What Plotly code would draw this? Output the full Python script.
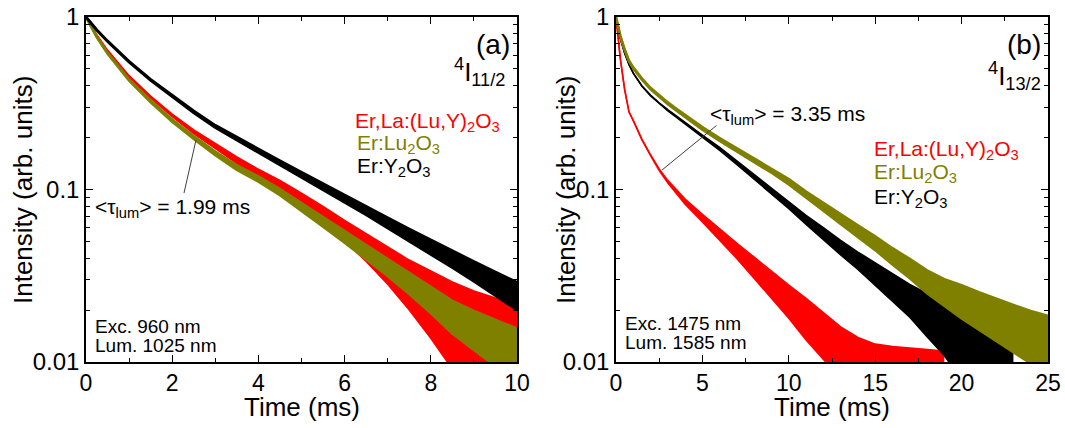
import plotly.graph_objects as go

# ---------------- data ----------------
# Panel (a): 4I11/2 decay, time in ms, normalised intensity
t_a = [0, 0.25, 0.5, 1, 1.5, 2, 2.5, 3, 3.5, 4, 4.5, 5, 5.5, 6, 6.5, 7, 7.5, 8, 8.5, 9, 9.5, 10]
erY_a = [1.0, 0.841, 0.724, 0.550, 0.432, 0.347, 0.282, 0.232, 0.197, 0.167, 0.143, 0.122, 0.104,
         0.0883, 0.0753, 0.0641, 0.0547, 0.0466, 0.0397, 0.0338, 0.0288, 0.0245]
erLu_a = [1.0, 0.767, 0.617, 0.431, 0.324, 0.251, 0.200, 0.162, 0.134, 0.115, 0.0966, 0.0794, 0.0649,
          0.0531, 0.0435, 0.0355, 0.0288, 0.0232, 0.0186, 0.0158, 0.0135, 0.0116]
erLa_a = [1.0, 0.785, 0.638, 0.452, 0.343, 0.269, 0.216, 0.178, 0.148, 0.124, 0.106, 0.0881, 0.0724,
          0.0582, 0.0468, 0.0372, 0.0295, 0.0237, 0.0191, 0.0158, 0.0135, 0.0117]
# noise half-spread of each trace (linear units)
erY_a_spread = [0.004, 0.004, 0.004, 0.004, 0.004, 0.004, 0.004, 0.004, 0.004, 0.004, 0.004, 0.004,
                0.004, 0.004, 0.004, 0.0045, 0.0045, 0.0045, 0.0045, 0.0045, 0.0045, 0.0045]
erLu_a_spread = [0.004, 0.004, 0.004, 0.004, 0.004, 0.004, 0.004, 0.004, 0.004, 0.004, 0.004, 0.004,
                 0.004, 0.004, 0.004, 0.004, 0.004, 0.004, 0.004, 0.004, 0.004, 0.004]
erLa_a_spread = [0.004, 0.005, 0.005, 0.005, 0.005, 0.005, 0.0055, 0.006, 0.0065, 0.007, 0.007, 0.007,
                 0.0075, 0.008, 0.0085, 0.009, 0.0095, 0.01, 0.01, 0.01, 0.01, 0.01]

# Panel (b): 4I13/2 decay
t_b = [0, 0.1, 0.25, 0.5, 0.75, 1, 1.5, 2, 2.5, 3, 3.5, 4, 5, 6, 7, 8, 9, 10, 11, 12, 13, 14, 15,
       16, 17, 18, 19, 20, 21, 22, 23, 24, 25]
erLu_b = [1.0, 0.891, 0.776, 0.646, 0.556, 0.507, 0.437, 0.385, 0.347, 0.316, 0.290, 0.266, 0.226,
          0.195, 0.170, 0.148, 0.129, 0.111, 0.0933, 0.0794, 0.0676, 0.0575, 0.0490, 0.0412, 0.0351,
          0.0295, 0.0257, 0.0229, 0.0204, 0.0182, 0.0164, 0.0148, 0.0135]
erLu_b_spread = [0.004] * 20 + [0.0045] * 7 + [0.005] * 6
t_bY = t_b[:31]
erY_b = [1.0, 0.881, 0.750, 0.617, 0.531, 0.473, 0.398, 0.351, 0.316, 0.288, 0.264, 0.243, 0.204,
         0.172, 0.143, 0.119, 0.0989, 0.0813, 0.0668, 0.0556, 0.0462, 0.0389, 0.0327, 0.0275, 0.0232,
         0.0195, 0.0164, 0.0138, 0.0116, 0.00977, 0.00822]
erY_b_spread = [0.001, 0.001, 0.001, 0.001, 0.0015, 0.0015, 0.002, 0.002, 0.002, 0.0025, 0.0025, 0.003,
                0.003, 0.0035, 0.0035, 0.004, 0.004, 0.004, 0.004, 0.0045, 0.0045, 0.0045, 0.005, 0.005,
                0.005, 0.0055, 0.0055, 0.006, 0.006, 0.006, 0.006]
t_bLa = t_b[:27]
erLa_b = [1.0, 0.794, 0.575, 0.380, 0.282, 0.251, 0.195, 0.158, 0.130, 0.111, 0.0966, 0.0851, 0.0684,
          0.0550, 0.0442, 0.0355, 0.0285, 0.0229, 0.0184, 0.0148, 0.0120, 0.0104, 0.0097, 0.0093,
          0.0090, 0.0088, 0.0086]
erLa_b_spread = [0.001, 0.001, 0.001, 0.001, 0.001, 0.001, 0.001, 0.001, 0.0015, 0.002, 0.0025, 0.003,
                 0.0035, 0.004, 0.0045, 0.005, 0.005, 0.005, 0.005, 0.0045, 0.004, 0.0035, 0.003, 0.003,
                 0.003, 0.003, 0.003]

y_tickvals = [0.01, 0.1, 1]
y_ticktext = ["0.01", "0.1", "1"]
y_minor = [0.02, 0.03, 0.04, 0.05, 0.06, 0.07, 0.08, 0.09, 0.2, 0.3, 0.4, 0.5, 0.6, 0.7, 0.8, 0.9]

RED, OLIVE, BLACK = "#FF0000", "#808000", "#000000"
FONT = "Liberation Sans, Arial, sans-serif"

fig = go.Figure()


def add_band(t, c, s, color, width, xa, ya):
    hi = [ci + si for ci, si in zip(c, s)]
    lo = [max(ci - si, 1e-3) for ci, si in zip(c, s)]
    fig.add_trace(go.Scatter(x=t, y=hi, mode="lines", line=dict(color=color, width=width),
                             xaxis=xa, yaxis=ya, showlegend=False, hoverinfo="skip"))
    fig.add_trace(go.Scatter(x=t, y=lo, mode="lines", line=dict(color=color, width=width),
                             fill="tonexty", fillcolor=color,
                             xaxis=xa, yaxis=ya, showlegend=False, hoverinfo="skip"))


add_band(t_a, erLa_a, erLa_a_spread, RED, 1.5, "x", "y")
add_band(t_a, erLu_a, erLu_a_spread, OLIVE, 2.5, "x", "y")
add_band(t_a, erY_a, erY_a_spread, BLACK, 2.5, "x", "y")

add_band(t_bLa, erLa_b, erLa_b_spread, RED, 1.5, "x2", "y2")
add_band(t_bY, erY_b, erY_b_spread, BLACK, 1.5, "x2", "y2")
add_band(t_b, erLu_b, erLu_b_spread, OLIVE, 2.5, "x2", "y2")

# ---------------- layout ----------------
L, T, W, H = 86, 17, 962, 345


def px(x):
    return (x - L) / W


def py(y):
    return (T + H - y) / H


common_x = dict(showline=True, linecolor="black", linewidth=1.5, mirror="allticks",
                ticks="inside", ticklen=7, tickwidth=1.2, tickcolor="black", automargin=False,
                showgrid=False, zeroline=False, tickfont=dict(size=23, family=FONT),
                minor=dict(ticks="inside", ticklen=4, tickwidth=1.2, tickcolor="black", showgrid=False))
common_y = dict(type="log", range=[-2, 0], tickvals=y_tickvals, ticktext=y_ticktext,
                showline=True, linecolor="black", linewidth=1.5, mirror="allticks",
                ticks="inside", ticklen=7, tickwidth=1.2, tickcolor="black", automargin=False,
                showgrid=False, zeroline=False, tickfont=dict(size=24, family=FONT),
                minor=dict(ticks="inside", ticklen=4, tickwidth=1.2, tickcolor="black",
                           tickvals=y_minor, showgrid=False))

fig.update_layout(
    width=1065, height=428,
    margin=dict(l=L, r=1065 - L - W, t=T, b=428 - T - H, autoexpand=False),
    paper_bgcolor="white", plot_bgcolor="white",
    font=dict(family=FONT, color="black"),
    showlegend=False,
    xaxis=dict(domain=[0, px(517)], range=[0, 10], tick0=0, dtick=2, **common_x),
    yaxis=dict(domain=[0, 1], anchor="x", **common_y),
    xaxis2=dict(domain=[px(616), 1], range=[0, 25], tick0=0, dtick=5, anchor="y2", **common_x),
    yaxis2=dict(domain=[0, 1], anchor="x2", **common_y),
)
fig.layout.xaxis.minor.dtick = 1
fig.layout.xaxis2.minor.dtick = 2.5


def note(text, x, y, size=21, color="black", xanchor="left", yanchor="middle", angle=0):
    fig.add_annotation(text=text, x=px(x), y=py(y), xref="paper", yref="paper",
                       xanchor=xanchor, yanchor=yanchor, showarrow=False, textangle=angle,
                       font=dict(size=size, color=color, family=FONT))


# axis titles
note("Time (ms)", 301.5, 407, size=26, xanchor="center")
note("Time (ms)", 832, 407, size=26, xanchor="center")
note("Intensity (arb. units)", 23, 190, size=26, xanchor="center", angle=-90)
note("Intensity (arb. units)", 566, 190, size=26, xanchor="center", angle=-90)

# panel labels
note("(a)", 493, 44, size=28, xanchor="center")
note("(b)", 1024, 44, size=28, xanchor="center")
note("<sup>4</sup>I<sub>11/2</sub>", 507, 72, size=26, xanchor="right")
note("<sup>4</sup>I<sub>13/2</sub>", 1043, 76, size=26, xanchor="right")

# sample legends
note("Er,La:(Lu,Y)<sub>2</sub>O<sub>3</sub>", 353, 122, color=RED)
note("Er:Lu<sub>2</sub>O<sub>3</sub>", 355, 144, color=OLIVE)
note("Er:Y<sub>2</sub>O<sub>3</sub>", 355, 167, color=BLACK)
note("Er,La:(Lu,Y)<sub>2</sub>O<sub>3</sub>", 872, 150, color=RED)
note("Er:Lu<sub>2</sub>O<sub>3</sub>", 872, 173, color=OLIVE)
note("Er:Y<sub>2</sub>O<sub>3</sub>", 872, 198, color=BLACK)

# lifetime labels
note("&lt;τ<sub>lum</sub>&gt; = 1.99 ms", 93, 208)
note("&lt;τ<sub>lum</sub>&gt; = 3.35 ms", 708, 115)

# excitation / detection
note("Exc. 960 nm", 93, 326, size=19)
note("Lum. 1025 nm", 93, 345, size=19)
note("Exc. 1475 nm", 623, 323, size=19)
note("Lum. 1585 nm", 623, 342, size=19)

# leader lines
for (x0, y0, x1, y1) in [(184, 193, 196, 140), (662, 170, 716.5, 125.5)]:
    fig.add_shape(type="line", xref="paper", yref="paper", x0=px(x0), y0=py(y0), x1=px(x1), y1=py(y1),
                  line=dict(color="#404040", width=1))

fig.write_html("out.html", config={"displayModeBar": False},
               post_script="document.body.style.margin='0';")
